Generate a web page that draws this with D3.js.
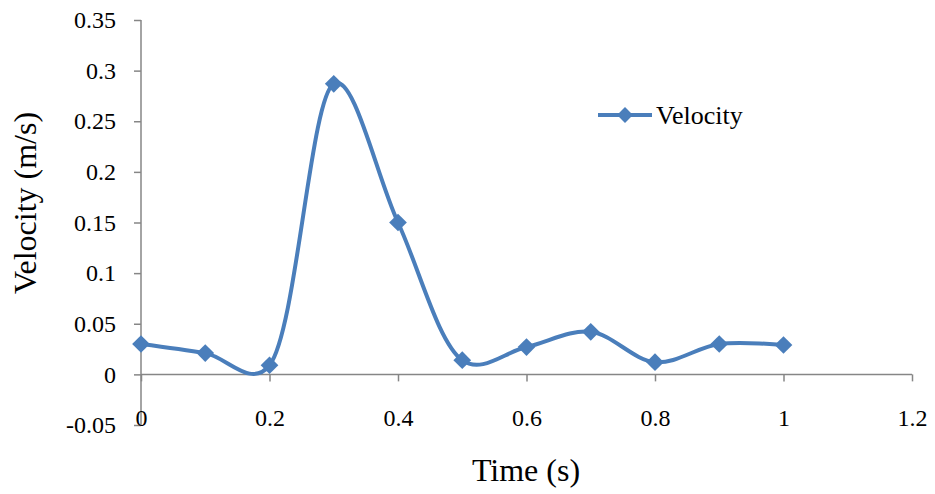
<!DOCTYPE html>
<meta charset="utf-8">
<style>
html, body {
  margin: 0;
  background: #fff;
}
.axis path, .axis line {
  stroke: #868686;
  stroke-width: 1.5px;
  fill: none;
}
</style>
<svg></svg>
<script src="https://d3js.org/d3.v7.min.js"></script>
<script>

var times = [0, 0.1, 0.2, 0.3, 0.4, 0.5, 0.6, 0.7, 0.8, 0.9, 1.0];
var velocity = [0.030, 0.021, 0.009, 0.287, 0.150, 0.014, 0.027, 0.042, 0.012, 0.030, 0.029];
var xTicks = [0, 0.2, 0.4, 0.6, 0.8, 1, 1.2];
var yTicks = [-0.05, 0, 0.05, 0.1, 0.15, 0.2, 0.25, 0.3, 0.35];
var seriesName = 'Velocity';

var width = 935, height = 494;
var blue = '#4a7ebb';
var serif = '"Liberation Serif", "Times New Roman", serif';

var svg = d3.select('svg')
  .attr('width', width)
  .attr('height', height)
  .style('font-family', serif);

var x = d3.scaleLinear().domain([0, 1.2]).range([141, 912]);
var y = d3.scaleLinear().domain([-0.05, 0.35]).range([425, 20]);

// plain hyphen minus like Excel
function fmt(d) { return String(+d.toFixed(2)); }

// y axis sits at x = 0
var yAxis = svg.append('g')
  .attr('class', 'axis')
  .attr('transform', 'translate(' + x(0) + ',0)')
  .call(d3.axisLeft(y).tickValues(yTicks).tickSize(7).tickSizeOuter(0)
    .tickPadding(18).tickFormat(fmt));
yAxis.select('.domain').attr('d', 'M0,' + y(-0.05) + 'V' + y(0.35));

// x axis sits at y = 0, labels at the bottom of the plot
var xAxis = svg.append('g')
  .attr('class', 'axis')
  .attr('transform', 'translate(0,' + y(0) + ')')
  .call(d3.axisBottom(x).tickValues(xTicks).tickSize(7).tickSizeOuter(0)
    .tickFormat(fmt));
xAxis.select('.domain').attr('d', 'M' + x(0) + ',0H' + x(1.2));
xAxis.selectAll('.tick text')
  .attr('y', y(-0.05) - y(0) + 1)
  .attr('dy', '0');

svg.selectAll('.axis')
  .attr('font-family', serif)
  .attr('font-size', 24);
svg.selectAll('.axis text').attr('fill', '#000');

var data = times.map(function (t, i) { return [t, velocity[i]]; });

var line = d3.line()
  .x(function (d) { return x(d[0]); })
  .y(function (d) { return y(d[1]); })
  .curve(d3.curveCatmullRom.alpha(0.25));

svg.append('path')
  .datum(data)
  .attr('d', line)
  .attr('fill', 'none')
  .attr('stroke', blue)
  .attr('stroke-width', 4)
  .attr('stroke-linejoin', 'round');

var diamond = d3.symbol().type(d3.symbolDiamond2).size(200);

svg.append('g').selectAll('path')
  .data(data)
  .enter().append('path')
  .attr('d', diamond)
  .attr('transform', function (d) { return 'translate(' + x(d[0]) + ',' + y(d[1]) + ')'; })
  .attr('fill', blue);

// legend
var legend = svg.append('g').attr('transform', 'translate(598,115)');
legend.append('line')
  .attr('x1', 0).attr('x2', 54)
  .attr('stroke', blue).attr('stroke-width', 4);
legend.append('path')
  .attr('d', d3.symbol().type(d3.symbolDiamond2).size(160))
  .attr('transform', 'translate(27,0)')
  .attr('fill', blue);
legend.append('text')
  .attr('x', 58).attr('y', 9)
  .style('font-size', '26px')
  .text(seriesName);

// axis titles
svg.append('text')
  .attr('x', 526).attr('y', 481)
  .attr('text-anchor', 'middle')
  .style('font-size', '32px')
  .text('Time (s)');

svg.append('text')
  .attr('transform', 'translate(36,203) rotate(-90)')
  .attr('text-anchor', 'middle')
  .style('font-size', '32px')
  .text('Velocity (m/s)');
</script>
